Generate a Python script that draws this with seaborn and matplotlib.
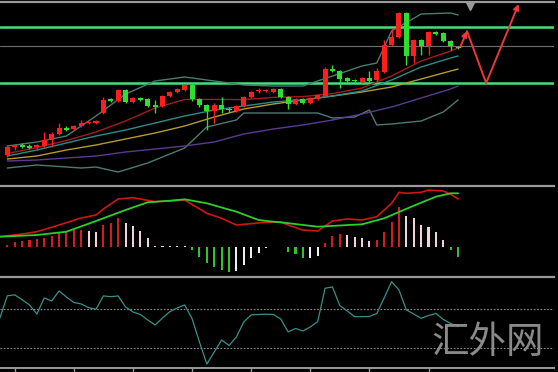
import numpy as np
import pandas as pd
import seaborn as sns
import matplotlib
matplotlib.use("Agg")
import matplotlib.pyplot as plt

# ---- candles (oldest first) ----
opens = [1.1745, 1.1753, 1.1755, 1.1754, 1.1753, 1.1754, 1.1760, 1.1766, 1.1772, 1.1771,
         1.1774, 1.1777, 1.1777, 1.1787, 1.1801, 1.1799, 1.1810, 1.1798, 1.1802, 1.1801,
         1.1795, 1.1794, 1.1804, 1.1808, 1.1810, 1.1815, 1.1801, 1.1795, 1.1789, 1.1795,
         1.1791, 1.1789, 1.1794, 1.1803, 1.1809, 1.1809, 1.1808, 1.1811, 1.1803, 1.1796,
         1.1801, 1.1797, 1.1801, 1.1804, 1.1831, 1.1829, 1.1822, 1.1820, 1.1818, 1.1822,
         1.1820, 1.1828, 1.1855, 1.1863, 1.1887, 1.1844, 1.1860, 1.1854, 1.1868, 1.1867,
         1.1859, 1.1853]
highs = [1.1755, 1.1756, 1.1757, 1.1756, 1.1756, 1.1768, 1.1768, 1.1777, 1.1774, 1.1775,
         1.1780, 1.1779, 1.1780, 1.1803, 1.1802, 1.1811, 1.1811, 1.1803, 1.1803, 1.1802,
         1.1800, 1.1805, 1.1809, 1.1812, 1.1816, 1.1816, 1.1802, 1.1796, 1.1797, 1.1803,
         1.1793, 1.1795, 1.1804, 1.1809, 1.1812, 1.1811, 1.1812, 1.1812, 1.1804, 1.1802,
         1.1802, 1.1803, 1.1806, 1.1833, 1.1835, 1.1830, 1.1823, 1.1821, 1.1823, 1.1829,
         1.1832, 1.1860, 1.1872, 1.1888, 1.1888, 1.1861, 1.1861, 1.1869, 1.1869, 1.1868,
         1.1860, 1.1854]
lows = [1.1743, 1.1750, 1.1752, 1.1751, 1.1750, 1.1752, 1.1753, 1.1765, 1.1769, 1.1770,
        1.1773, 1.1776, 1.1776, 1.1786, 1.1798, 1.1798, 1.1797, 1.1797, 1.1799, 1.1793,
        1.1787, 1.1793, 1.1803, 1.1807, 1.1809, 1.1799, 1.1793, 1.1770, 1.1777, 1.1787,
        1.1788, 1.1788, 1.1793, 1.1802, 1.1807, 1.1808, 1.1807, 1.1802, 1.1791, 1.1795,
        1.1796, 1.1796, 1.1800, 1.1803, 1.1828, 1.1812, 1.1818, 1.1818, 1.1817, 1.1818,
        1.1819, 1.1827, 1.1854, 1.1862, 1.1835, 1.1837, 1.1845, 1.1845, 1.1865, 1.1858,
        1.1850, 1.1851]
closes = [1.1753, 1.1755, 1.1753, 1.1752, 1.1755, 1.1760, 1.1766, 1.1772, 1.1770, 1.1774,
          1.1777, 1.1778, 1.1779, 1.1800, 1.1799, 1.1810, 1.1798, 1.1802, 1.1800, 1.1794,
          1.1793, 1.1804, 1.1808, 1.1811, 1.1815, 1.1801, 1.1795, 1.1789, 1.1795, 1.1791,
          1.1790, 1.1794, 1.1803, 1.1808, 1.1810, 1.1810, 1.1811, 1.1803, 1.1796, 1.1801,
          1.1797, 1.1802, 1.1805, 1.1831, 1.1829, 1.1821, 1.1819, 1.1819, 1.1822, 1.1819,
          1.1829, 1.1855, 1.1863, 1.1887, 1.1844, 1.1860, 1.1854, 1.1868, 1.1866, 1.1859,
          1.1854, 1.1852]

# ---- moving averages / bollinger (bar index, price) ----
ma_idx = [0, 4, 8, 12, 16, 20, 24, 28, 32, 36, 40, 44, 48, 52, 56, 60, 61]
ma_red = [1.17465, 1.17524, 1.17595, 1.1768, 1.1779, 1.1792, 1.18005, 1.18006, 1.18004,
          1.18026, 1.18034, 1.18064, 1.1812, 1.1824, 1.1839, 1.1849, 1.1852]
ma_teal = [1.1744, 1.1750, 1.1757, 1.1764, 1.1770, 1.1777, 1.1784, 1.1790, 1.1794,
           1.1798, 1.1800, 1.1804, 1.1809, 1.1820, 1.1833, 1.1842, 1.1844]
ma_yellow = [1.1741, 1.1744, 1.1750, 1.1755, 1.1761, 1.1767, 1.1774, 1.1783, 1.1791,
             1.1796, 1.1800, 1.1804, 1.1808, 1.1813, 1.1821, 1.1829, 1.1831]
ma_purple = [1.1739, 1.1740, 1.1742, 1.1744, 1.1748, 1.1751, 1.1754, 1.1758, 1.1766,
             1.1771, 1.1775, 1.1780, 1.1786, 1.1793, 1.1802, 1.1811, 1.1814]
bb_up_idx = [0, 4, 8, 12, 16, 20, 24, 28, 32, 36, 40, 44, 48, 50, 52, 56, 60, 61]
bb_up = [1.1754, 1.1758, 1.1764, 1.1784, 1.1806, 1.1819, 1.1823, 1.1819, 1.1815,
         1.1814, 1.1814, 1.1824, 1.1834, 1.1837, 1.1869, 1.1886, 1.1887, 1.1885]
bb_lo_idx = [0, 4, 10, 12, 15, 19, 24, 27, 31, 32, 35, 42, 44, 47, 49, 50, 52, 56, 59, 61]
bb_lo = [1.1732, 1.1735, 1.1732, 1.1733, 1.1728, 1.1737, 1.1752, 1.1773, 1.1780, 1.1787,
         1.1787, 1.1787, 1.1782, 1.1783, 1.1790, 1.1775, 1.1776, 1.1779, 1.1788, 1.1800]

resistance = 1.1873
support = 1.1817
last_price = 1.1854

# forecast path drawn on chart
fc_idx = [61.3, 62.2, 64.8, 69.2]
fc_price = [1.1853, 1.1869, 1.1817, 1.1896]

# ---- MACD (pips) ----
hist = [0.15, 0.42, 0.55, 0.65, 0.72, 0.88, 1.08, 1.32, 1.42, 1.65,
        1.70, 1.58, 1.48, 2.15, 2.32, 2.82, 2.38, 2.05, 1.58, 0.82,
        0.10, 0.08, 0.06, 0.05, 0.03, -0.35, -1.02, -1.68, -2.02, -2.35,
        -2.58, -2.45, -1.85, -1.12, -0.68, -0.18, -0.05, -0.03, -0.52, -0.78,
        -1.12, -1.10, -0.95, 0.38, 1.08, 1.25, 1.15, 0.98, 0.82, 0.55,
        0.65, 1.48, 2.48, 3.98, 3.08, 2.82, 2.15, 1.98, 1.48, 0.65,
        -0.35, -1.08]
macd_idx = [-1, 2, 4, 7, 10, 12, 13, 15, 17, 20, 22, 24, 27, 29, 31, 32, 35, 37, 38,
            40, 42, 44, 46, 48, 50, 52, 53, 54, 56, 57, 59, 60, 61]
macd_line = [0.98, 1.25, 1.48, 2.15, 2.85, 3.15, 3.75, 4.75, 4.88, 4.48, 4.55, 4.65,
             3.32, 2.82, 2.15, 2.22, 2.42, 2.45, 2.15, 1.65, 1.55, 2.55, 2.75, 2.65,
             2.98, 4.32, 5.42, 5.32, 5.42, 5.65, 5.55, 5.22, 4.75]
signal_idx = [-1, 4, 8, 12, 16, 19, 22, 24, 27, 31, 34, 36, 37, 42, 48, 51, 55, 58, 60, 61]
signal_line = [0.98, 1.15, 1.48, 2.55, 3.65, 4.42, 4.58, 4.72, 4.32, 3.48, 2.65, 2.48,
               2.42, 1.98, 2.22, 2.82, 4.08, 4.98, 5.32, 5.32]

# ---- oscillator ----
rsi_idx = list(range(-1, 62))
rsi = [61, 84, 85, 80, 74.5, 65.1, 81.8, 78.6, 89.1, 82.8, 77.1,
       75.5, 71.7, 70, 83.9, 83.1, 83.9, 72.4, 67.2, 64.6, 58.9,
       53.6, 60.9, 67.5, 71.4, 74.5, 60.4, 35.9, 13, 25.5, 38,
       32.3, 41.1, 56.8, 64.1, 64.6, 64.8, 64.6, 59.9, 46.4, 50,
       47.4, 51.6, 57.1, 91.9, 93.2, 73.8, 68.2, 62.3, 62.3, 62.5,
       65.6, 81.8, 98.8, 90.1, 69.3, 65.1, 60.6, 63.5, 65.6, 59.4,
       55.2, 51.9]
rsi_levels = [70, 30]

sns.set_theme(style="dark", rc={"axes.facecolor": "black", "figure.facecolor": "black"})

W, H = 558, 372
fig = plt.figure(figsize=(W / 100, H / 100), dpi=100)


def panel(top, bottom):
    ax = fig.add_axes([0, (H - bottom) / H, 554 / W, (bottom - top) / H])
    ax.set_facecolor("black")
    for s in ax.spines.values():
        s.set_visible(False)
    ax.spines["top"].set_visible(True)
    ax.spines["top"].set_color("#9a9a9a")
    ax.spines["top"].set_linewidth(1.6)
    ax.set_xlim(-0.99, 73.98)
    ax.set_xticks([])
    ax.set_yticks([])
    ax.grid(False)
    return ax


ax1 = panel(2, 184)
ax2 = panel(186, 275)
ax3 = panel(277, 368)

# ---- price panel ----
df = pd.DataFrame({"open": opens, "high": highs, "low": lows, "close": closes})
df["idx"] = np.arange(len(df))
df["up"] = df["close"] >= df["open"]
colors = np.where(df["up"], "#ff1e1e", "#2ee02e")
body_lo = df[["open", "close"]].min(axis=1)
body_h = (df["close"] - df["open"]).abs().clip(lower=0.00009)

ax1.axhline(resistance, color="#45e07a", lw=1.8, zorder=1)
ax1.axhline(support, color="#45e07a", lw=1.8, zorder=1)
ax1.axhline(last_price, color="#6e6e6e", lw=0.8, zorder=1)

for vals, idx, col in [(bb_up, bb_up_idx, "#4d7a72"), (bb_lo, bb_lo_idx, "#4d7a72"),
                       (ma_purple, ma_idx, "#5a3a8e"), (ma_yellow, ma_idx, "#b39b2c"),
                       (ma_teal, ma_idx, "#2e8a8a"), (ma_red, ma_idx, "#a31c1c")]:
    sns.lineplot(x=idx, y=vals, ax=ax1, color=col, lw=1.0, zorder=2)

ax1.vlines(df["idx"], df["low"], df["high"], color=colors, lw=1.0, zorder=3)
ax1.bar(df["idx"], body_h, bottom=body_lo, width=0.68, color=colors, zorder=4, linewidth=0)

arrow_kw = dict(arrowstyle="-|>", color="#e83a3a", lw=1.4, mutation_scale=8, shrinkA=0, shrinkB=0)
ax1.annotate("", xy=(fc_idx[1], fc_price[1]), xytext=(fc_idx[0], fc_price[0]), arrowprops=arrow_kw)
ax1.plot(fc_idx[1:3], fc_price[1:3], color="#e83a3a", lw=1.4)
ax1.annotate("", xy=(fc_idx[3], fc_price[3]), xytext=(fc_idx[2], fc_price[2]), arrowprops=arrow_kw)
ax1.plot([62.6], [1.1894], marker="v", color="#9a9a9a", ms=6)
ax1.set_ylim(1.1716, 1.1898)

# ---- MACD panel ----
hist_colors = []
for i, v in enumerate(hist):
    prev = hist[i - 1] if i > 0 else 0
    if v >= 0:
        hist_colors.append("#d41c1c" if v > prev else "#f0d2da")
    else:
        hist_colors.append("#2ec42e" if v < prev else "#eeeeee")
ax2.bar(np.arange(len(hist)), hist, width=0.28, color=hist_colors, linewidth=0)
sns.lineplot(x=macd_idx, y=macd_line, ax=ax2, color="#d01515", lw=1.2)
sns.lineplot(x=signal_idx, y=signal_line, ax=ax2, color="#2ad02a", lw=1.3)
ax2.set_ylim(-2.85, 6.05)

# ---- oscillator panel ----
for lv in rsi_levels:
    ax3.axhline(lv, color="#8c8c8c", lw=0.8, ls=(0, (1.5, 1.5)))
sns.lineplot(x=rsi_idx, y=rsi, ax=ax3, color="#3b8f8a", lw=0.9)
ax3.set_ylim(8.85, 103.6)
ax3.spines["bottom"].set_visible(True)
ax3.spines["bottom"].set_color("#9a9a9a")
ax3.spines["bottom"].set_linewidth(1.4)
ax3.set_xticks(np.arange(1, 64, 8))
ax3.set_xticklabels([])
ax3.tick_params(axis="x", direction="out", length=3, width=1, color="#9a9a9a", bottom=True)

fig.text(488 / W, 1 - 342 / H, "汇外网", ha="center", va="center", fontsize=27,
         color="#8a8a8a", family=["Noto Sans CJK SC", "DejaVu Sans"], fontweight="light")

fig.savefig("out.png", dpi=100, facecolor="black")
